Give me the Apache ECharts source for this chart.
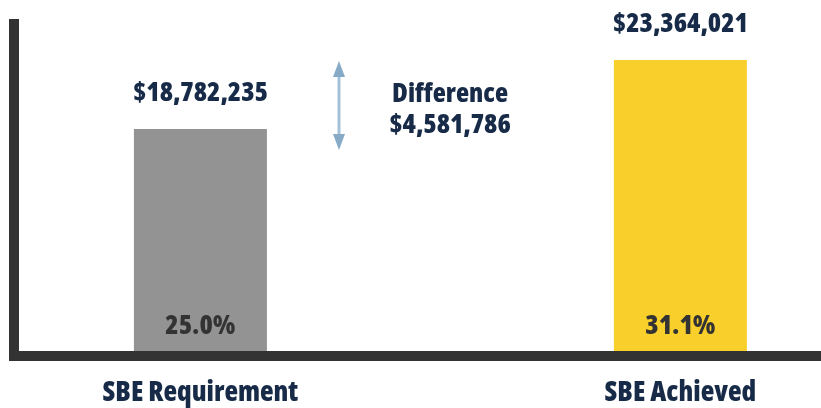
<!DOCTYPE html>
<html>
<head>
<meta charset="UTF-8">
<title>SBE</title>
<script src="https://cdn.jsdelivr.net/npm/echarts@6/dist/echarts.min.js"></script>
<style>
	html, body { margin: 0; padding: 0; background: #fff; }
	#main { width: 821px; height: 408px; }
</style>
</head>
<body>
<div id="main"></div>
<script type="text/javascript">
	// data
	var categories = ['SBE Requirement', 'SBE Achieved'];
	var amounts = [18782235, 23364021];
	var percents = [25.0, 31.1];
	var barColors = ['#939393', '#f9cf2b'];

	var FONT = '"Open Sans", Roboto, sans-serif';
	var WEIGHT = '800 condensed';
	var NAVY = '#172b48';

	function money(v) {
		return '$' + v.toString().replace(/\B(?=(\d{3})+(?!\d))/g, ',');
	}
	var diff = amounts[1] - amounts[0];

	var myChart = echarts.init(document.getElementById('main'));

	var axisLineStyle = { color: '#333333', width: 10, cap: 'square' };

	myChart.setOption({
		animation: false,
		grid: [
			// bars
			{ left: 19, right: 0, top: 19, bottom: 57 },
			// the thick axis lines
			{ left: 14, right: 0, top: 24, bottom: 57 }
		],
		xAxis: [
			{
				gridIndex: 0,
				type: 'value',
				min: -0.378,
				max: 1.293,
				axisLine: { show: false },
				axisTick: { show: false },
				splitLine: { show: false },
				axisLabel: {
					customValues: [0, 1],
					formatter: function (v) { return categories[Math.round(v)]; },
					margin: 28,
					color: NAVY,
					fontFamily: FONT,
					fontWeight: WEIGHT,
					fontSize: 28
				}
			},
			{
				gridIndex: 1,
				type: 'value',
				offset: 5,
				axisLine: { onZero: false, lineStyle: axisLineStyle },
				axisTick: { show: false },
				axisLabel: { show: false },
				splitLine: { show: false }
			}
		],
		yAxis: [
			{
				gridIndex: 0,
				type: 'value',
				min: 4040000,
				max: 26087000,
				show: false
			},
			{
				gridIndex: 1,
				type: 'value',
				axisLine: { show: true, onZero: false, lineStyle: axisLineStyle },
				axisTick: { show: false },
				axisLabel: { show: false },
				splitLine: { show: false }
			}
		],
		series: [
			{
				type: 'bar',
				xAxisIndex: 0,
				yAxisIndex: 0,
				barWidth: 133,
				z: 3,
				data: amounts.map(function (v, i) {
					return { value: [i, v], itemStyle: { color: barColors[i] } };
				}),
				label: {
					show: true,
					position: 'insideBottom',
					distance: 11,
					color: '#333333',
					fontFamily: FONT,
					fontWeight: WEIGHT,
					fontSize: 27,
					formatter: function (p) { return percents[p.dataIndex].toFixed(1) + '%'; }
				}
			},
			{
				type: 'bar',
				xAxisIndex: 0,
				yAxisIndex: 0,
				barWidth: 133,
				barGap: '-100%',
				z: 4,
				data: amounts.map(function (v, i) { return [i, v]; }),
				itemStyle: { color: 'rgba(0,0,0,0)' },
				label: {
					show: true,
					position: 'top',
					distance: 22,
					color: NAVY,
					fontFamily: FONT,
					fontWeight: WEIGHT,
					fontSize: 27,
					formatter: function (p) { return money(p.value[1]); }
				}
			}
		],
		graphic: [
			// double headed arrow
			{
				type: 'line',
				shape: { x1: 339, y1: 74, x2: 339, y2: 137 },
				style: { stroke: '#a3c1d8', lineWidth: 3 }
			},
			{
				type: 'polygon',
				shape: { points: [[339, 61], [333, 77], [345, 77]] },
				style: { fill: '#87aac6' }
			},
			{
				type: 'polygon',
				shape: { points: [[339, 150], [333, 134], [345, 134]] },
				style: { fill: '#87aac6' }
			},
			{
				type: 'text',
				x: 450,
				y: 79,
				style: {
					text: 'Difference\n' + money(diff),
					fill: NAVY,
					font: '800 condensed 27px ' + FONT,
					lineHeight: 31,
					align: 'center',
					verticalAlign: 'top'
				}
			}
		]
	});
</script>
</body>
</html>
